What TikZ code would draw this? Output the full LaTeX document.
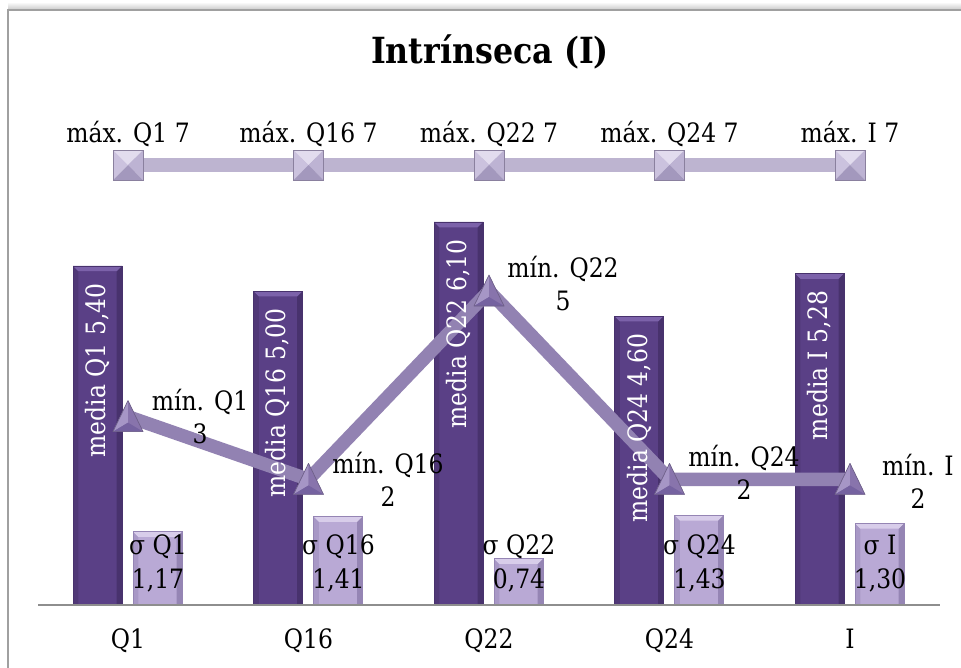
\documentclass[tikz,border=0pt]{standalone}
\usepackage{fontspec}
\setmainfont{DejaVu Serif}[FakeStretch=0.88]
\definecolor{dbar}{HTML}{5A4086}
\definecolor{dbarhi}{HTML}{7C62AA}
\definecolor{dbarlo}{HTML}{48326D}
\definecolor{dbarside}{HTML}{503877}
\definecolor{lbar}{HTML}{B9A9D5}
\definecolor{lbarhi}{HTML}{D8CDEA}
\definecolor{lbarlo}{HTML}{9585B4}
\definecolor{lbarside}{HTML}{A898C6}
\definecolor{minc}{HTML}{9282B2}
\definecolor{maxc}{HTML}{BDB4D0}
\definecolor{trib}{HTML}{8874AC}
\definecolor{trilight}{HTML}{A696C6}
\definecolor{tridark}{HTML}{7562A0}
\definecolor{trioutl}{HTML}{6E6088}
\definecolor{sqtop}{HTML}{E2DCEE}
\definecolor{sqleft}{HTML}{CBC2DE}
\definecolor{sqright}{HTML}{BDB3D3}
\definecolor{sqbot}{HTML}{A398BD}
\definecolor{sqoutl}{HTML}{8A809E}
\definecolor{framec}{HTML}{A0A0A0}
\definecolor{axisc}{HTML}{8E8E8E}
\begin{document}
\begin{tikzpicture}[x=0.75pt,y=-0.75pt,
  txt/.style={font=\fontsize{20}{23}\selectfont, inner sep=0pt},
  bevel/.style n args={3}{path picture={
    \coordinate (nw) at (path picture bounding box.north west);
    \coordinate (ne) at (path picture bounding box.north east);
    \coordinate (sw) at (path picture bounding box.south west);
    \coordinate (se) at (path picture bounding box.south east);
    \fill[#2] (nw) -- ([shift={(4pt,-4pt)}]nw) -- ([shift={(4pt,0pt)}]sw) -- (sw) -- cycle;
    \fill[#3] (ne) -- ([shift={(-4pt,-4pt)}]ne) -- ([shift={(-4pt,0pt)}]se) -- (se) -- cycle;
    \fill[#1] (nw) -- (ne) -- ([shift={(-4pt,-4pt)}]ne) -- ([shift={(4pt,-4pt)}]nw) -- cycle;
  }},
  darkbar/.style={draw=dbarlo, line width=0.5pt, fill=dbar, minimum width=36.75pt,
    inner sep=0pt, outer sep=0pt, anchor=south, bevel={dbarhi}{dbarside}{dbarlo}},
  lightbar/.style={draw=lbarlo, line width=0.5pt, fill=lbar, minimum width=36.75pt,
    inner sep=0pt, outer sep=0pt, anchor=south, bevel={lbarhi}{lbarside}{lbarlo}},
  medialab/.style={txt, text=white, rotate=90, anchor=east},
  minline/.style={draw=minc, line width=10pt, line join=round},
  maxline/.style={draw=maxc, line width=10pt},
  trimark/.pic={
    \fill[trib] (-15,15) -- (0,-16) -- (15,15) -- cycle;
    \fill[trilight] (-15,15) -- (0,-16) -- (0,6) -- cycle;
    \fill[trib] (0,-16) -- (15,15) -- (0,6) -- cycle;
    \fill[tridark] (-15,15) -- (15,15) -- (0,6) -- cycle;
    \draw[trioutl, line width=0.5pt, line join=round] (-15,15) -- (0,-16) -- (15,15) -- cycle;
  },
  sqmark/.pic={
    \fill[sqtop] (-15,-15) -- (15,-15) -- (0,0) -- cycle;
    \fill[sqleft] (-15,-15) -- (-15,15) -- (0,0) -- cycle;
    \fill[sqright] (15,-15) -- (15,15) -- (0,0) -- cycle;
    \fill[sqbot] (-15,15) -- (15,15) -- (0,0) -- cycle;
    \draw[sqoutl, line width=0.6pt] (-15,-15) rectangle (15,15);
  }]
\useasboundingbox (0,0) rectangle (961,668);
\fill[white] (0,0) rectangle (961,668);
% frame
\shade[top color=white, bottom color=black!22] (8,2) rectangle (961,10);
\draw[framec, line width=1pt] (8,668) -- (8,10) -- (961,10);
% title
\node[font=\bfseries\fontsize{27}{31}\selectfont, inner sep=0pt, anchor=base] (title) at (490,63) {Intrínseca (I)};
% axis
\coordinate (axl) at (38,605);
\coordinate (axr) at (940,605);

\foreach \i/\n/\mu/\sg/\mn/\mul/\sgl/\lx/\ly in {
  0/Q1/5.40/1.17/3/{5,40}/{1,17}/200/410,
  1/Q16/5.00/1.41/2/{5,00}/{1,41}/388/473,
  2/Q22/6.10/0.74/5/{6,10}/{0,74}/563/277,
  3/Q24/4.60/1.43/2/{4,60}/{1,43}/744/466,
  4/I/5.28/1.30/2/{5,28}/{1,30}/918/475}{
  \pgfmathsetmacro\c{128+180.5*\i}
  \pgfmathsetmacro\ymin{605-\mn*62.8}
  \node[darkbar, minimum height={\mu*62.8*0.75pt}] (d\i) at (\c-30.5,605) {};
  \node[lightbar, minimum height={\sg*62.8*0.75pt}] (l\i) at (\c+29.5,605) {};
  \coordinate (p\i) at (\c,165);
  \coordinate (q\i) at (\c,\ymin);
  % category label
  \node[txt, anchor=base] (cat\i) at (\c,648) {\n};
  % max label
  \node[txt, anchor=base] (maxlab\i) at (\c,142) {máx. \n\ 7};
  % sigma label
  \node[txt, anchor=base] (sga\i) at (\c+30,554) {σ \n};
  \node[txt, anchor=base] (sgb\i) at (\c+30,588) {\sgl};
}
\draw[axisc, line width=1.5pt] (axl) -- (axr);
\draw[maxline] (p0) -- (p1) -- (p2) -- (p3) -- (p4);
\draw[minline] (q0) -- (q1) -- (q2) -- (q3) -- (q4);
\foreach \i/\n/\mu/\mn/\mul/\lx/\ly in {
  0/Q1/5.40/3/{5,40}/200/410,
  1/Q16/5.00/2/{5,00}/388/473,
  2/Q22/6.10/5/{6,10}/563/277,
  3/Q24/4.60/2/{4,60}/744/466,
  4/I/5.28/2/{5,28}/918/475}{
  \pic at (p\i) {sqmark};
  \pic at (q\i) {trimark};
  \node[medialab] (ml\i) at ([yshift=-13pt]d\i.north) {media \n\ \mul};
  \node[txt, anchor=base] (mina\i) at (\lx,\ly) {mín. \n};
  \node[txt, anchor=base] (minb\i) at (\lx,\ly+33) {\mn};
}
\end{tikzpicture}
\end{document}
